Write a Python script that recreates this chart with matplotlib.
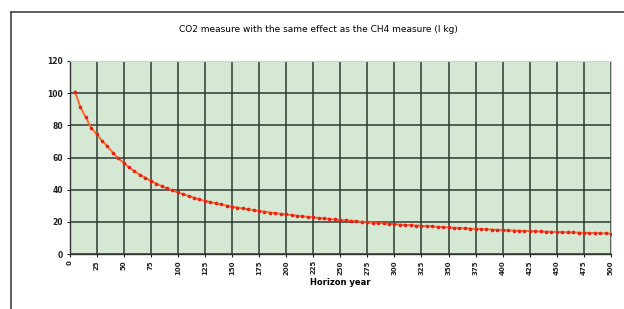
import matplotlib.pyplot as plt
from matplotlib.lines import Line2D

# horizon years and CO2 amount equivalent to 1 kg CH4
years = list(range(5, 505, 5))
co2_equiv = [
    101.0, 91.5, 85.0, 78.5, 74.5, 70.5, 67.0, 63.0, 59.5, 56.7,
    53.8, 51.5, 49.3, 47.5, 45.5, 43.8, 42.3, 40.8, 39.5, 38.3,
    37.1, 36.0, 35.0, 34.0, 33.1, 32.3, 31.5, 30.8, 30.1, 29.5,
    28.9, 28.3, 27.8, 27.3, 26.8, 26.3, 25.8, 25.4, 25.0, 24.6,
    24.2, 23.8, 23.4, 23.1, 22.8, 22.4, 22.1, 21.8, 21.5, 21.2,
    20.9, 20.6, 20.3, 20.0, 19.8, 19.5, 19.3, 19.0, 18.8, 18.5,
    18.3, 18.1, 17.9, 17.7, 17.5, 17.3, 17.1, 16.9, 16.7, 16.5,
    16.3, 16.1, 16.0, 15.8, 15.6, 15.5, 15.3, 15.2, 15.0, 14.9,
    14.7, 14.6, 14.5, 14.3, 14.2, 14.1, 14.0, 13.9, 13.8, 13.7,
    13.6, 13.5, 13.4, 13.3, 13.2, 13.1, 13.0, 12.9, 12.8, 12.7,
]
x_ticks = list(range(0, 525, 25))
y_ticks = list(range(0, 140, 20))

fig = plt.figure(figsize=(6.24, 3.09), dpi=100)

# outer chart frame (only top and left edges are visible in the crop)
fig.add_artist(Line2D([10.5 / 624, 10.5 / 624], [0, 1 - 11.7 / 309],
                      transform=fig.transFigure, color='#444444', lw=1.2))
fig.add_artist(Line2D([10.5 / 624, 1], [1 - 11.7 / 309, 1 - 11.7 / 309],
                      transform=fig.transFigure, color='#444444', lw=1.2))

ax = fig.add_axes([69.5 / 624, 1 - 254 / 309, (611 - 69.5) / 624, (254 - 61) / 309])
ax.set_facecolor('#d4e8d3')

ax.plot(years, co2_equiv, color='#ff6a2a', lw=1.4, marker='o', markersize=1.6,
        markerfacecolor='#e8201a', markeredgecolor='#e8201a', zorder=3)

ax.set_xlim(0, 500)
ax.set_ylim(0, 120)
ax.set_xticks(x_ticks)
ax.set_yticks(y_ticks)
ax.set_xticklabels([str(t) for t in x_ticks], rotation=90, fontsize=5, fontweight='bold')
ax.set_yticklabels([str(t) for t in y_ticks], fontsize=5.5, fontweight='bold')
ax.tick_params(length=2.5, width=0.8, pad=2, colors='#222222')

ax.grid(True, color='#2e3a32', lw=1.1)
ax.set_axisbelow(True)
for side in ['left', 'bottom']:
    ax.spines[side].set_color('#333333')
    ax.spines[side].set_linewidth(1.0)
for side in ['top', 'right']:
    ax.spines[side].set_color('#cfcfcf')
    ax.spines[side].set_linewidth(0.8)

ax.set_xlabel('Horizon year', fontsize=6, fontweight='bold', labelpad=2)
fig.text(0.51, 1 - 30 / 309, 'CO2 measure with the same effect as the CH4 measure (l kg)',
         ha='center', va='center', fontsize=6.5)

plt.savefig('out.png', dpi=100)
plt.close()
